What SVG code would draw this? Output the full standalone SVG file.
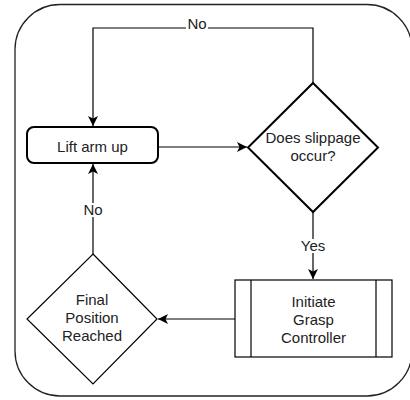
<svg xmlns="http://www.w3.org/2000/svg" width="410" height="400" viewBox="0 0 410 400">
<style>
text{font-family:"Liberation Sans",Arial,sans-serif;font-size:15px;fill:#222;text-anchor:middle}
.thick{fill:#fff;stroke:#000;stroke-width:2}
.thin{fill:#fff;stroke:#000;stroke-width:1.2}
.edge{fill:none;stroke:#000;stroke-width:1.2}
.lbl{fill:#fff;stroke:none}
</style>
<defs>
<marker id="arr" viewBox="0 0 10 10" refX="10" refY="5" markerWidth="10" markerHeight="10" markerUnits="userSpaceOnUse" orient="auto">
<path d="M0,0 L10,5 L0,10 L2.5,5 Z" fill="#000"/>
</marker>
</defs>
<rect id="frame" x="15" y="4.5" width="397" height="391.5" rx="45" ry="45" fill="none" stroke="#222" stroke-width="1.3"/>
<g id="edges">
<polyline class="edge" points="313,83 313,28 93,28 93,126" marker-end="url(#arr)"/>
<line class="edge" x1="158" y1="147" x2="247" y2="147" marker-end="url(#arr)"/>
<line class="edge" x1="313" y1="212" x2="313" y2="279" marker-end="url(#arr)"/>
<line class="edge" x1="235" y1="319" x2="158" y2="319" marker-end="url(#arr)"/>
<line class="edge" x1="93" y1="254" x2="93" y2="164" marker-end="url(#arr)"/>
<rect class="lbl" x="186" y="18" width="22" height="14"/>
<text x="197" y="29">No</text>
<rect class="lbl" x="81" y="203" width="24" height="14"/>
<text x="93" y="215">No</text>
<rect class="lbl" x="299" y="239" width="28" height="14"/>
<text x="313" y="251">Yes</text>
</g>
<g id="lift">
<rect class="thick" x="27" y="127" width="131" height="36" rx="7" ry="7"/>
<text x="92.5" y="152">Lift arm up</text>
</g>
<g id="slippage">
<polygon class="thick" points="313,83 378,147.5 313,212 248,147.5"/>
<text x="313" y="143">Does slippage</text>
<text x="313" y="161">occur?</text>
</g>
<g id="grasp">
<rect class="thin" x="235" y="280" width="157" height="77"/>
<line class="edge" x1="251" y1="280" x2="251" y2="357"/>
<line class="edge" x1="376" y1="280" x2="376" y2="357"/>
<text x="313.5" y="307">Initiate</text>
<text x="313.5" y="325">Grasp</text>
<text x="313.5" y="343">Controller</text>
</g>
<g id="final">
<polygon class="thin" points="93,254 157,319 93,384 27,319"/>
<text x="92" y="305">Final</text>
<text x="92" y="323">Position</text>
<text x="92" y="341">Reached</text>
</g>
</svg>
